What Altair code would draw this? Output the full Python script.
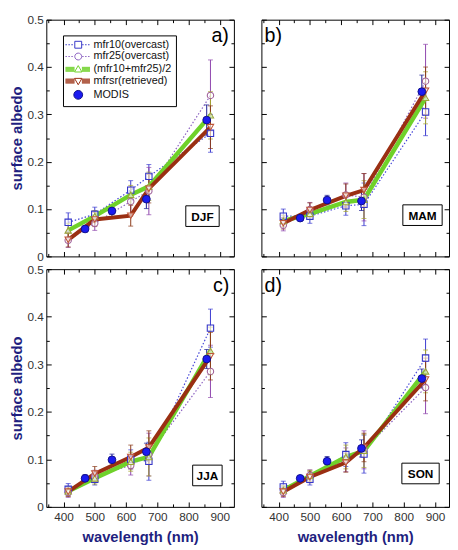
import pandas as pd
import altair as alt

seasons = ["DJF", "MAM", "JJA", "SON"]
panel_tags = ["a)", "b)", "c)", "d)"]
series = ["mfr10(overcast)", "mfr25(overcast)", "(mfr10+mfr25)/2",
          "mfrsr(retrieved)", "MODIS"]

wl_mfr = [415, 500, 615, 673, 870]
wl_modis = [469, 555, 665, 858]

# surface albedo, with its error bar half-length
mfr10 = {"DJF": [0.072, 0.089, 0.140, 0.169, 0.260],
         "MAM": [0.085, 0.085, 0.107, 0.110, 0.305],
         "JJA": [0.037, 0.058, 0.100, 0.096, 0.376],
         "SON": [0.042, 0.058, 0.110, 0.111, 0.313]}
mfr10_err = {"DJF": [0.020, 0.015, 0.020, 0.025, 0.040],
             "MAM": [0.015, 0.015, 0.020, 0.045, 0.050],
             "JJA": [0.012, 0.012, 0.020, 0.040, 0.040],
             "SON": [0.012, 0.012, 0.025, 0.040, 0.040]}

mfr25 = {"DJF": [0.034, 0.070, 0.116, 0.138, 0.340],
         "MAM": [0.066, 0.099, 0.130, 0.125, 0.370],
         "JJA": [0.030, 0.065, 0.087, 0.110, 0.285],
         "SON": [0.030, 0.066, 0.099, 0.120, 0.251]}
mfr25_err = {"DJF": [0.015, 0.015, 0.030, 0.050, 0.075],
             "MAM": [0.012, 0.015, 0.025, 0.050, 0.078],
             "JJA": [0.010, 0.012, 0.020, 0.045, 0.055],
             "SON": [0.010, 0.012, 0.025, 0.040, 0.055]}

mfr_avg = {"DJF": [0.055, 0.085, 0.130, 0.148, 0.298],
           "MAM": [0.075, 0.090, 0.115, 0.120, 0.335],
           "JJA": [0.033, 0.060, 0.095, 0.105, 0.328],
           "SON": [0.035, 0.065, 0.105, 0.118, 0.285]}
mfr_avg_err = {"DJF": [0.015, 0.012, 0.020, 0.030, 0.050],
               "MAM": [0.012, 0.012, 0.020, 0.040, 0.055],
               "JJA": [0.010, 0.012, 0.020, 0.040, 0.050],
               "SON": [0.010, 0.012, 0.025, 0.035, 0.045]}

mfrsr = {"DJF": [0.035, 0.078, 0.086, 0.143, 0.273],
         "MAM": [0.070, 0.098, 0.128, 0.140, 0.350],
         "JJA": [0.032, 0.070, 0.105, 0.125, 0.317],
         "SON": [0.032, 0.063, 0.093, 0.125, 0.268]}
mfrsr_err = {"DJF": [0.015, 0.015, 0.022, 0.030, 0.045],
             "MAM": [0.012, 0.015, 0.025, 0.035, 0.050],
             "JJA": [0.010, 0.015, 0.025, 0.035, 0.050],
             "SON": [0.010, 0.012, 0.020, 0.030, 0.045]}

modis = {"DJF": [0.058, 0.096, 0.121, 0.288],
         "MAM": [0.081, 0.119, 0.117, 0.348],
         "JJA": [0.060, 0.099, 0.116, 0.311],
         "SON": [0.060, 0.096, 0.123, 0.270]}
modis_err = {"DJF": [0.006, 0.012, 0.020, 0.032],
             "MAM": [0.006, 0.010, 0.020, 0.035],
             "JJA": [0.008, 0.012, 0.018, 0.020],
             "SON": [0.006, 0.010, 0.018, 0.020]}

sources = [(mfr10, mfr10_err, wl_mfr), (mfr25, mfr25_err, wl_mfr),
           (mfr_avg, mfr_avg_err, wl_mfr), (mfrsr, mfrsr_err, wl_mfr),
           (modis, modis_err, wl_modis)]

rows = []
for s in seasons:
    for name, (vals, errs, wls) in zip(series, sources):
        for w, v, e in zip(wls, vals[s], errs[s]):
            rows.append(dict(season=s, series=name, wl=w, albedo=v,
                             lo=v - e, hi=v + e))
df = pd.DataFrame(rows)
tags = pd.DataFrame({"season": seasons, "tag": panel_tags})

# styles
line_col = ["#4646d8", "#8a5fc0", "#6fd12a", "#9a2f12", None]
mark_col = ["#3535c8", "#a0609a", "#9aa53a", "#c0563a", "#10108a"]
err_col = ["#3a3ad0", "#8e44ad", "#a3a32a", "#8b3a1a", "#1a1a90"]
shapes = ["square", "circle", "triangle-up", "triangle-down", "circle"]
navy = "#1f1f80"
FONT = "Liberation Sans"

W = 191
H = [241, 242]
# (tag x, box centre x, box width, box centre from bottom)
layout = {"DJF": (W - 14, W - 32, 34, 41), "MAM": (12, W - 27, 40, 42),
          "JJA": (W - 13, W - 27, 30, 32), "SON": (12, W - 29, 38, 34)}

xs = alt.Scale(domain=[345, 945], nice=False, zero=False)
ys = alt.Scale(domain=[0, 0.5], nice=False)
x_vals = list(range(350, 950, 50))
y_vals = [round(0.05 * i, 2) for i in range(11)]


def tick_axis(orient, shift, values, major):
    # ticks-only axis pushed to the opposite edge so the ticks point inwards
    return alt.Axis(orient=orient, offset=-shift, values=values, labels=False,
                    domain=False, grid=False, title=None, tickColor="black",
                    tickWidth=1,
                    tickSize={"condition": {"test": major, "value": 5}, "value": 3})


def dotted(x0, x1):
    out, x = "", x0
    while x < x1 - 0.05:
        out += f"M{x:.2f},0H{min(x + 0.3, x1):.2f}"
        x += 0.6
    return out


def band(x0, x1):
    return "".join(f"M{x0},{y}H{x1}" for y in (-0.4, -0.2, 0, 0.2, 0.4))


sq = "M0.5,-0.7H1.9V0.7H0.5Z"
circ = "M1.9,0A0.7,0.7 0 1,1 0.5,0A0.7,0.7 0 1,1 1.9,0Z"
tri_up = "M1.2,-0.75L1.95,0.55H0.45Z"
tri_dn = "M1.2,0.75L1.95,-0.55H0.45Z"
dot = "M2.1,0A0.9,0.9 0 1,1 0.3,0A0.9,0.9 0 1,1 2.1,0Z"
leg_paths = [dotted(-1.4, 0.45) + dotted(2.0, 3.6) + sq,
             dotted(-1.4, 0.45) + dotted(2.0, 3.6) + circ,
             band(-1.4, 0.45) + band(1.95, 3.6) + tri_up,
             band(-1.4, 0.45) + band(1.95, 3.6) + tri_dn,
             dot]


def panel(i):
    season = seasons[i]
    row, col = divmod(i, 2)
    h = H[row]
    d = df[df.season == season]
    y_major = "round(datum.value * 100) % 10 == 0"
    x_major = "datum.value % 100 == 0"

    x_axes = [alt.Axis(orient="bottom", values=list(range(400, 1000, 100)),
                       ticks=False, domain=False, grid=False, labelPadding=5,
                       title="wavelength (nm)", titleFontSize=15,
                       titleFontWeight="bold", titleColor=navy,
                       titlePadding=7) if row == 1 else None,
              tick_axis("top", h, x_vals, x_major),
              tick_axis("bottom", h, x_vals, x_major)]
    y_axes = [alt.Axis(orient="left", values=[0, 0.1, 0.2, 0.3, 0.4, 0.5],
                       ticks=False, domain=False, grid=False, labelPadding=3,
                       labelExpr="datum.value == 0 ? '0' : format(datum.value, '.1f')",
                       title="surface albedo", titleFontSize=15,
                       titleFontWeight="bold", titleColor=navy,
                       titlePadding=3) if col == 0 else None,
              tick_axis("right", W, y_vals, y_major),
              tick_axis("left", W, y_vals, y_major)]

    def enc(k, field="albedo"):
        return dict(x=alt.X("wl:Q", scale=xs, axis=x_axes[k] if k is not None else None),
                    y=alt.Y(f"{field}:Q", scale=ys, axis=y_axes[k] if k is not None else None))

    layers = []
    # thin dotted lines of the single-channel retrievals
    for j, k in ((0, 0), (1, 1)):
        ds = d[d.series == series[j]]
        layers.append(alt.Chart(ds).mark_line(color=line_col[j], strokeWidth=1.2,
                                              strokeDash=[1.5, 2]).encode(**enc(k)))
    for j in range(5):
        ds = d[d.series == series[j]]
        layers.append(alt.Chart(ds).mark_errorbar(color=err_col[j], ticks=True,
                                                  size=5, thickness=1).encode(
            x=alt.X("wl:Q", scale=xs, axis=None),
            y=alt.Y("lo:Q", scale=ys, axis=None), y2="hi:Q"))
    for j, k, sw in ((2, 2, 4.5), (3, None, 4)):
        ds = d[d.series == series[j]]
        layers.append(alt.Chart(ds).mark_line(color=line_col[j], strokeWidth=sw)
                      .encode(**enc(k)))
    for j in range(4):
        ds = d[d.series == series[j]]
        layers.append(alt.Chart(ds).mark_point(shape=shapes[j], size=42,
                                               stroke=mark_col[j], strokeWidth=1.1,
                                               fill="white", fillOpacity=0.6,
                                               opacity=1).encode(**enc(None)))
    ds = d[d.series == "MODIS"]
    layers.append(alt.Chart(ds).mark_point(shape="circle", size=62, filled=True,
                                           fill="#1b1bf0", stroke=mark_col[4],
                                           strokeWidth=1, opacity=1)
                  .encode(**enc(None)))

    tag_x, box_x, box_w, box_b = layout[season]
    t = alt.Chart(tags[tags.season == season])
    layers.append(t.mark_text(font=FONT, fontSize=20, color="black").encode(
        x=alt.value(tag_x), y=alt.value(17), text="tag:N"))
    layers.append(t.mark_rect(fill="white", stroke="black", strokeWidth=1).encode(
        x=alt.value(box_x - box_w / 2), x2=alt.value(box_x + box_w / 2),
        y=alt.value(h - box_b - 10.5), y2=alt.value(h - box_b + 10.5)))
    layers.append(t.mark_text(font=FONT, fontSize=12, fontWeight="bold",
                              color="black").encode(
        x=alt.value(box_x), y=alt.value(h - box_b + 0.5), text="season:N"))

    if i == 0:
        leg = pd.DataFrame({"series": series})
        lg = alt.Legend(title=None, orient="none", legendX=17, legendY=16)
        layers.append(alt.Chart(leg).transform_filter("false").mark_point().encode(
            shape=alt.Shape("series:N", scale=alt.Scale(domain=series, range=leg_paths), legend=lg),
            stroke=alt.Stroke("series:N", scale=alt.Scale(domain=series, range=[
                "#3535c8", "#8a5fc0", "#6fd12a", "#9a2f12", "#10108a"]), legend=lg),
            fill=alt.Fill("series:N", scale=alt.Scale(domain=series, range=[
                "white", "white", "white", "white", "#1b1bf0"]), legend=lg),
        ))

    return alt.layer(*layers).resolve_axis(x="independent", y="independent") \
        .properties(width=W, height=h)


chart = alt.concat(*[panel(i) for i in range(4)], columns=2,
                   spacing={"row": 13, "column": 28}, bounds="flush")
chart = chart.properties(padding={"left": 0, "top": 0, "right": 0, "bottom": 0})
chart = chart.configure_view(stroke="black", strokeWidth=1).configure_axis(
    labelFont=FONT, labelFontSize=12, labelColor="#333333", titleFont=FONT
).configure_legend(
    labelFont=FONT, labelFontSize=11, labelColor="#111111", symbolSize=100,
    labelOffset=16, rowPadding=0, padding=4, strokeColor="black",
    fillColor="white", symbolStrokeWidth=1, symbolOpacity=1
)

chart.save("out.html", embed_options={"renderer": "svg", "actions": False})
